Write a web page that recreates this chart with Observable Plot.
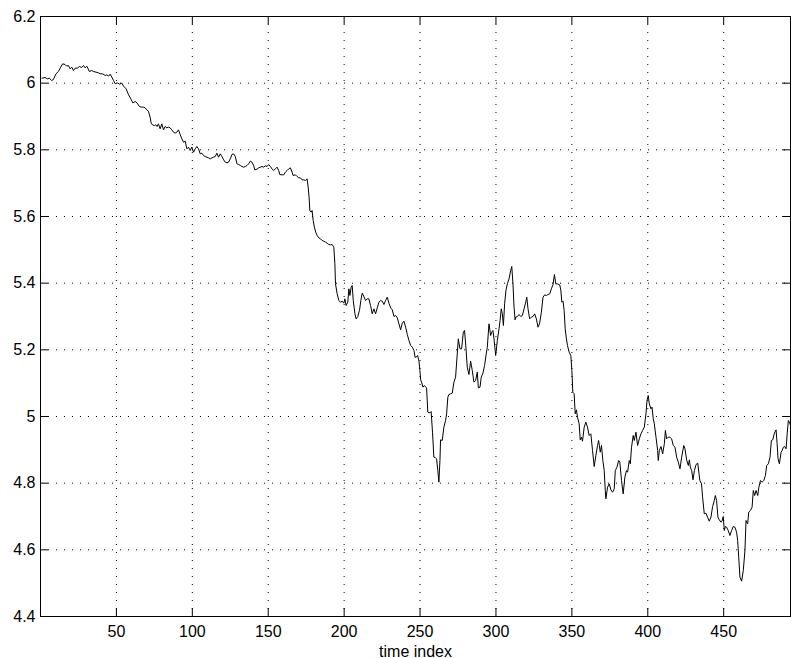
<!DOCTYPE html>
<html>
<head>
<meta charset="utf-8">
<script src="https://cdn.jsdelivr.net/npm/d3@7"></script>
<script src="https://cdn.jsdelivr.net/npm/@observablehq/plot@0.6"></script>
<style>
  html, body { margin: 0; padding: 0; background: #fff; }
  #chart svg { display: block; }
</style>
</head>
<body>
<div id="chart"></div>
<script>
// Series readings as [time index, value], grouped by stretch of the record.
const plateau = [
  [1,6.015],[3,6.017],[4.5,6.013],[5.8,6.015],[7.4,6.008],[8.5,6.011],[10.2,6.028],[11.8,6.035],[13.3,6.048],[14.6,6.058],
  [16.2,6.056],[17.3,6.051],[18.4,6.053],[19.5,6.043],[20.6,6.048],[21.7,6.038],[22.8,6.045],[24.3,6.045],[25.6,6.05],[27.2,6.047],
  [28.3,6.053],[29.4,6.046],[30.5,6.051],[32.2,6.035],[33.8,6.038],[34.9,6.035],[36.6,6.033],[38.2,6.031],[39.3,6.028],[41,6.028],
  [42.6,6.023],[43.7,6.025],[44.8,6.021],[45.9,6.027],[47,6.018],[48.1,6.008],[49.2,5.998],[50.7,6.001],[52,5.997],[53.6,6.0],
  [54.7,5.991],[56.4,5.983],[58,5.965],[59.5,5.953],[60.8,5.941],[62.4,5.945],[63.5,5.941],[65.2,5.93]
];
const slowDecline = [
  [66.7,5.928],[67.8,5.928],[68.9,5.926],[70,5.92],[71.1,5.916],[72.2,5.898],[72.9,5.88],[73.7,5.875],[75.1,5.873],[75.9,5.875],
  [76.8,5.87],[77.7,5.878],[78.8,5.863],[79.9,5.878],[81,5.86],[82.1,5.87],[83.2,5.866],[84.3,5.868],[85.4,5.866],[86.5,5.86],
  [87.6,5.853],[88.7,5.85],[89.8,5.853],[90.9,5.86],[92,5.846],[93.1,5.833],[94.2,5.823],[95.3,5.826],[96.4,5.803],[97.5,5.808],
  [98.6,5.798],[99.7,5.808],[100.8,5.793],[101.9,5.803],[103,5.81],[104.1,5.803],[105.2,5.788],[106.3,5.79],[107.4,5.783],[108.5,5.78],
  [109.6,5.778],[110.7,5.776],[111.8,5.773],[112.9,5.776],[114,5.778],[115.1,5.78],[116.2,5.79],[117.3,5.778],[118.4,5.788],[119.5,5.78],
  [120.6,5.77],[121.7,5.763],[122.8,5.761],[123.9,5.763],[125,5.773],[126.1,5.786],[127.2,5.788],[128.3,5.78]
];
const shelf = [
  [129.4,5.758],[130.5,5.756],[131.6,5.753],[132.7,5.75],[133.8,5.748],[134.9,5.75],[136,5.753],[137.1,5.758],[138.2,5.766],[139.3,5.763],
  [140.4,5.753],[141.1,5.74],[142.6,5.742],[143.7,5.746],[144.8,5.748],[145.9,5.75],[147,5.748],[148.1,5.752],[149.2,5.75],[150.3,5.756],
  [151.4,5.75],[152.5,5.743],[153.6,5.738],[154.7,5.743],[155.8,5.748],[156.9,5.738],[157.6,5.726],[159.1,5.725],[160.2,5.725],[161.3,5.733],
  [162.4,5.738],[163.5,5.743],[164.6,5.746],[165.7,5.733],[166.4,5.723],[167.9,5.725],[169,5.72],[170.1,5.716],[171.2,5.716],[172.3,5.71],
  [173.4,5.71],[174.5,5.708],[175.6,5.713],[176.3,5.688],[176.9,5.658],[177.4,5.618],[178.2,5.613],[178.9,5.618],[179.6,5.588],[180.4,5.568],
  [181.3,5.553],[182.2,5.543],[183.3,5.536],[184.4,5.533],[185.5,5.528],[186.6,5.526],[187.7,5.523],[188.8,5.52],[189.9,5.516],[191,5.515]
];
const firstDrop = [
  [192.1,5.516],[193.2,5.508],[193.9,5.458],[194.3,5.398],[195.4,5.368],[196.5,5.348],[197.6,5.343],[198.7,5.346],[199.8,5.34],[200.5,5.353],
  [201.3,5.333],[202.4,5.343],[203.1,5.383],[203.8,5.363],[204.6,5.388],[205.3,5.393],[206,5.348],[207.1,5.308],[207.9,5.293],[209,5.3],
  [210.1,5.318],[211,5.348],[211.9,5.37],[213,5.36],[214.1,5.348],[215.2,5.353],[216.3,5.353],[217.4,5.333],[218.5,5.308],[219.6,5.323],
  [220.7,5.308],[221.8,5.326],[222.9,5.343],[224,5.348],[225.1,5.346],[226.2,5.336],[227.3,5.348],[228.4,5.358],[229.5,5.34],[230.6,5.326],
  [231.7,5.32],[232.8,5.3],[233.9,5.303],[235,5.296],[236.1,5.278],[237.2,5.26],[238.3,5.28],[239.4,5.286],[240.5,5.268],[241.6,5.246],
  [242.7,5.228],[243.8,5.213],[244.9,5.208],[246,5.198],[246.7,5.178],[247.5,5.178],[248.4,5.183],[249.3,5.166],[249.9,5.138],[250.4,5.11],
  [251,5.103],[251.9,5.088],[252.8,5.093],[253.7,5.088]
];
const rebound = [
  [254.3,5.086],[255.1,5.013],[256.5,5.011],[257.3,5.015],[258.2,4.953],[259.1,4.878],[260.2,4.876],[260.9,4.873],[261.7,4.838],[262.4,4.803],
  [263.1,4.868],[263.5,4.93],[264.6,4.928],[265.7,4.968],[266.8,4.988],[267.5,5.008],[268.3,5.058],[269,5.066],[270.1,5.068],[271.2,5.07],
  [272.3,5.103],[273.4,5.118],[274.5,5.188],[275.2,5.233],[276.3,5.203],[277.4,5.203],[278.5,5.253],[279.3,5.258],[280.2,5.208],[281.1,5.148],
  [282.2,5.126],[283.3,5.166],[284.4,5.138],[285.5,5.103],[286.6,5.108],[287.7,5.133],[288.4,5.086],[289.5,5.088],[290.3,5.118],[291.4,5.13],
  [292.5,5.153],[293.6,5.188],[294.3,5.208],[295.4,5.278],[296.5,5.243],[297.2,5.253],[298,5.258],[298.7,5.233],[299.8,5.183],[300.9,5.228],
  [302,5.263],[302.7,5.288],[303.5,5.323],[304.2,5.308],[304.9,5.273],[305.7,5.338],[306.6,5.38],[307.5,5.398],[308.6,5.413],[309.7,5.438],
  [310.4,5.45],[311.2,5.398],[311.9,5.328],[312.6,5.29]
];
const secondDrop = [
  [313,5.298],[314.1,5.3],[315.2,5.306],[316.3,5.3],[317.4,5.303],[318.5,5.323],[319.6,5.343],[320.3,5.358],[321.1,5.323],[322.2,5.293],
  [323.3,5.298],[324.4,5.3],[325.5,5.308],[326.6,5.293],[327.7,5.268],[328.8,5.28],[329.9,5.313],[331,5.358],[332.1,5.365],[333.2,5.363],
  [334.3,5.366],[335.4,5.368],[336.5,5.383],[337.6,5.396],[338.5,5.426],[339.4,5.398],[340.5,5.398],[342,5.395],[342.7,5.38],[343.4,5.343],
  [344.2,5.346],[344.9,5.318],[345.6,5.263],[346.4,5.233],[347.1,5.213],[348.2,5.193],[349.3,5.183],[350,5.138],[350.6,5.073],[351.5,5.068],
  [352.2,5.008],[353,5.02],[353.7,4.998],[354.8,4.978],[355.5,4.93],[356.3,4.938],[357,4.926],[358.1,4.968],[359.2,4.983],[360.3,4.968],
  [361.4,4.943],[362.5,4.948],[363.6,4.898],[364.7,4.85],[365.8,4.883],[366.9,4.913],[367.6,4.928],[368.7,4.893],[369.5,4.913],[370.4,4.868],
  [371.3,4.838],[372,4.778],[372.4,4.753]
];
const lowRange = [
  [373.5,4.788],[374.6,4.798],[375.7,4.78],[376.8,4.773],[377.9,4.783],[378.6,4.838],[379.7,4.848],[380.8,4.868],[381.6,4.863],[382.7,4.808],
  [383.8,4.768],[384.9,4.818],[386,4.838],[386.7,4.833],[387.8,4.868],[388.5,4.858],[389.3,4.908],[390.4,4.943],[391.1,4.928],[392.2,4.953],
  [393.3,4.913],[394.4,4.933],[395.5,4.948],[396.6,4.958],[397.7,4.968],[398.8,5.008],[399.5,5.048],[400.3,5.063],[401,5.038],[402.1,5.023],
  [402.8,5.028],[403.6,4.993],[404.3,4.978],[405.4,4.938],[406.5,4.898],[406.9,4.868],[407.6,4.898],[408.7,4.91],[409.8,4.888],[410.9,4.918],
  [411.6,4.958],[412.4,4.933],[413.5,4.938],[414.6,4.938],[415.7,4.933],[416.8,4.913],[417.9,4.908],[419,4.878],[420.1,4.863],[421.2,4.843],
  [422.3,4.878],[423.7,4.913],[424.5,4.903],[425.6,4.87],[426.7,4.853],[427.4,4.87],[428,4.848],[428.9,4.838],[429.8,4.81],[430.7,4.838],
  [431.8,4.856],[432.9,4.86]
];
const finalTrough = [
  [434.3,4.808],[435.4,4.798],[436.1,4.758],[437.2,4.708],[438.3,4.71],[439.4,4.698],[440.5,4.686],[441.6,4.698],[442.7,4.73],[443.8,4.748],
  [444.5,4.763],[445.3,4.748],[446.2,4.698],[447.1,4.69],[448.2,4.683],[448.9,4.686],[449.7,4.7],[450.4,4.658],[451.1,4.67],[451.9,4.668],
  [453,4.658],[454.1,4.643],[455.2,4.658],[456.3,4.67],[457.4,4.668],[458.5,4.653],[459.2,4.628],[459.9,4.578],[460.7,4.518],[461.8,4.506],
  [462.9,4.538],[464,4.598],[464.7,4.688],[465.8,4.678],[466.5,4.713],[467.6,4.718],[468.7,4.728],[469.5,4.778],[470.4,4.763],[471.3,4.778],
  [472.4,4.763],[473.1,4.786],[474.2,4.808],[475.3,4.803],[476.4,4.808],[477.5,4.823],[478.3,4.853],[479.4,4.858],[480.5,4.878],[481.4,4.928],
  [482.3,4.93],[483.4,4.95],[484.5,4.96],[485.2,4.918],[485.8,4.873],[486.7,4.858],[487.8,4.893],[488.5,4.898],[489.3,4.908],[490.2,4.91],
  [491.1,4.903],[491.8,4.948],[492.6,4.988],[493.3,4.983],[494,4.973]
];

const xTicks = [50, 100, 150, 200, 250, 300, 350, 400, 450];
const yTicks = [4.4, 4.6, 4.8, 5, 5.2, 5.4, 5.6, 5.8, 6, 6.2];
const xLabel = "time index";

const series = [plateau, slowDecline, shelf, firstDrop, rebound, secondDrop, lowRange, finalTrough]
  .flat()
  .map(([t, v]) => ({t, v}));

const W = 791, H = 658;
const M = {top: 16, right: 1, bottom: 42, left: 40};
const innerW = W - M.left - M.right;
const innerH = H - M.top - M.bottom;
const tickLen = 8;
const dotted = {stroke: "#000", strokeOpacity: 1, strokeWidth: 1, strokeDasharray: "1,7"};

const chart = Plot.plot({
  width: W,
  height: H,
  marginTop: M.top,
  marginRight: M.right,
  marginBottom: M.bottom,
  marginLeft: M.left,
  x: {type: "linear", domain: [0, 494]},
  y: {type: "linear", domain: [4.4, 6.2]},
  style: {
    fontFamily: "'Liberation Sans', Arial, Helvetica, sans-serif",
    fontSize: "16px",
    color: "#000",
    background: "#fff",
    overflow: "visible"
  },
  marks: [
    // dotted grid
    Plot.gridX(xTicks, dotted),
    Plot.gridY(yTicks, dotted),
    // inward ticks on all four sides of the box
    Plot.tickX(xTicks, {x: d => d, stroke: "#000", insetTop: innerH - tickLen}),
    Plot.tickX(xTicks, {x: d => d, stroke: "#000", insetBottom: innerH - tickLen}),
    Plot.tickY(yTicks, {y: d => d, stroke: "#000", insetRight: innerW - tickLen}),
    Plot.tickY(yTicks, {y: d => d, stroke: "#000", insetLeft: innerW - tickLen}),
    Plot.frame({stroke: "#000", strokeWidth: 1}),
    // tick labels
    Plot.axisX(xTicks, {tickSize: 0, tickPadding: 9, label: null, fontSize: 16}),
    Plot.axisY(yTicks, {tickSize: 0, tickPadding: 5, label: null, fontSize: 16, tickFormat: d => String(d)}),
    // the series
    Plot.line(series, {x: "t", y: "v", stroke: "#000", strokeWidth: 1}),
    // axis title
    Plot.text([xLabel], {frameAnchor: "bottom", dy: 40, lineAnchor: "bottom", fontSize: 16, text: d => d, fill: "#000"})
  ]
});

document.getElementById("chart").appendChild(chart);
</script>
</body>
</html>
